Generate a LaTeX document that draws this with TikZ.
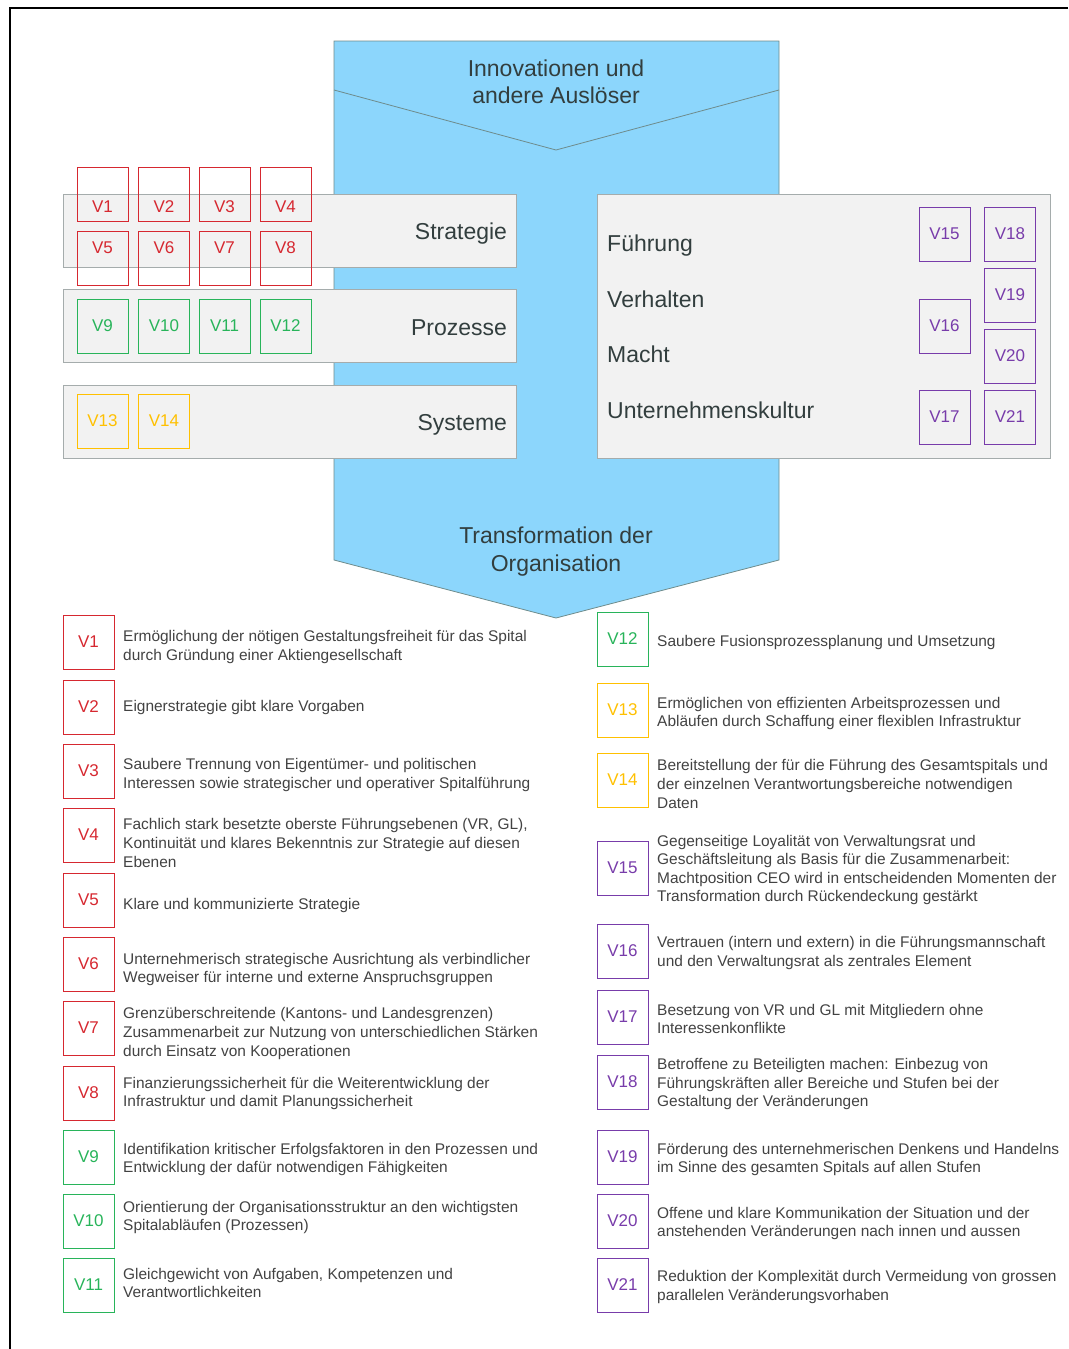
\documentclass[tikz,border=0pt]{standalone}
\usepackage{fontspec}
\setmainfont{Liberation Sans}
\definecolor{flowblue}{RGB}{140,214,252}
\definecolor{flowedge}{RGB}{110,140,140}
\definecolor{bandfill}{RGB}{242,242,242}
\definecolor{bandedge}{RGB}{165,172,172}
\definecolor{headtext}{RGB}{50,62,62}
\definecolor{bodytext}{RGB}{66,66,66}
\definecolor{vred}{RGB}{214,40,48}
\definecolor{vgreen}{RGB}{40,180,90}
\definecolor{vyellow}{RGB}{255,192,0}
\definecolor{vpurple}{RGB}{120,60,170}
\tikzset{
  frame/.style={draw=black, line width=1.5pt},
  flow/.style={fill=flowblue, draw=flowedge, line width=0.8pt},
  flowline/.style={draw=flowedge, line width=0.8pt},
  title/.style={align=center, text=headtext, inner sep=0, font=\fontsize{23}{27.5}\selectfont},
  band/.style={fill=bandfill, draw=bandedge, line width=1pt, minimum width=453pt, minimum height=73pt,
    text width=435pt, inner xsep=9pt, align=right, text=headtext, text height=22.5pt, text depth=4.5pt,
    font=\fontsize{23}{27}\selectfont},
  bandtext/.style={anchor=west, inner sep=0, text=headtext, font=\fontsize{23}{27}\selectfont},
  vbox/.style={draw, line width=0.9pt, minimum width=51pt, minimum height=54pt, inner sep=0, font=\fontsize{17}{20}\selectfont},
  redbox/.style={vbox, draw=vred, text=vred},
  greenbox/.style={vbox, draw=vgreen, text=vgreen},
  yellowbox/.style={vbox, draw=vyellow, text=vyellow},
  purplebox/.style={vbox, draw=vpurple, text=vpurple},
  textlow/.style={text height=40pt, text depth=4pt},
  texthigh/.style={text height=12pt, text depth=22pt},
  desc/.style={anchor=west, align=left, inner sep=0, yshift=-2.5pt, text=bodytext, font=\fontsize{15.45}{18.6}\selectfont}
}
\begin{document}
\begin{tikzpicture}[x=1pt,y=-1pt]
            \useasboundingbox (0,0) rectangle (1068,1349);
            \draw[frame] (1068,8) -- (10,8) -- (10,1349);

            \draw[flow] (334,41) -- (779,41) -- (779,560) -- (556,618) -- (334,560) -- cycle;
            \draw[flowline] (334,90) -- (556,150) -- (779,90);
            \node[title] (trigger) at (556,82) {Innovationen und\\andere Auslöser};
            \node[title] (result) at (556,551.5) {Transformation der\\Organisation};

            \node[band] (strategie) at (289.5,230.5) {Strategie};
            \node[band] (prozesse) at (289.5,326) {Prozesse};
            \node[band] (systeme) at (289.5,421.5) {Systeme};
            \node[band, minimum height=264pt] (kultur) at (823.5,326) {};
            \node[bandtext] (fuehrung) at (607,246) {Führung};
            \node[bandtext] (verhalten) at (607,299) {Verhalten};
            \node[bandtext] (macht) at (607,354) {Macht};
            \node[bandtext] (unternehmen) at (607,410) {Unternehmenskultur};

            \node[redbox, textlow] (s1) at (102.5,194) {V1};
            \node[redbox, textlow] (s2) at (164,194) {V2};
            \node[redbox, textlow] (s3) at (224.5,194) {V3};
            \node[redbox, textlow] (s4) at (285.5,194) {V4};
            \node[redbox, texthigh] (s5) at (102.5,258) {V5};
            \node[redbox, texthigh] (s6) at (164,258) {V6};
            \node[redbox, texthigh] (s7) at (224.5,258) {V7};
            \node[redbox, texthigh] (s8) at (285.5,258) {V8};
            \node[greenbox] (s9) at (102.5,326) {V9};
            \node[greenbox] (s10) at (164,326) {V10};
            \node[greenbox] (s11) at (224.5,326) {V11};
            \node[greenbox] (s12) at (285.5,326) {V12};
            \node[yellowbox] (s13) at (102.5,421) {V13};
            \node[yellowbox] (s14) at (164,421) {V14};

            \node[purplebox] (s15) at (944.5,234) {V15};
            \node[purplebox] (s18) at (1010,234) {V18};
            \node[purplebox] (s19) at (1010,295) {V19};
            \node[purplebox] (s16) at (944.5,326) {V16};
            \node[purplebox] (s20) at (1010,356) {V20};
            \node[purplebox] (s17) at (944.5,417) {V17};
            \node[purplebox] (s21) at (1010,417) {V21};

            \node[redbox] (l1) at (88.5,642) {V1};
            \node[desc] (d1) at (123,644.5) {Ermöglichung der nötigen Gestaltungsfreiheit für das Spital\\durch Gründung einer Aktiengesellschaft};
            \node[redbox] (l2) at (88.5,707) {V2};
            \node[desc] (d2) at (123,705) {Eignerstrategie gibt klare Vorgaben};
            \node[redbox] (l3) at (88.5,771) {V3};
            \node[desc] (d3) at (123,772.5) {Saubere Trennung von Eigentümer- und politischen\\Interessen sowie strategischer und operativer Spitalführung};
            \node[redbox] (l4) at (88.5,835) {V4};
            \node[desc] (d4) at (123,840.5) {Fachlich stark besetzte oberste Führungsebenen (VR, GL),\\Kontinuität und klares Bekenntnis zur Strategie auf diesen\\Ebenen};
            \node[redbox] (l5) at (88.5,900) {V5};
            \node[desc] (d5) at (123,903) {Klare und kommunizierte Strategie};
            \node[redbox] (l6) at (88.5,964) {V6};
            \node[desc] (d6) at (123,967) {Unternehmerisch strategische Ausrichtung als verbindlicher\\Wegweiser für interne und externe Anspruchsgruppen};
            \node[redbox] (l7) at (88.5,1028) {V7};
            \node[desc] (d7) at (123,1031) {Grenzüberschreitende (Kantons- und Landesgrenzen)\\Zusammenarbeit zur Nutzung von unterschiedlichen Stärken\\durch Einsatz von Kooperationen};
            \node[redbox] (l8) at (88.5,1093) {V8};
            \node[desc] (d8) at (123,1091) {Finanzierungssicherheit für die Weiterentwicklung der\\Infrastruktur und damit Planungssicherheit};
            \node[greenbox] (l9) at (88.5,1157) {V9};
            \node[desc] (d9) at (123,1157) {Identifikation kritischer Erfolgsfaktoren in den Prozessen und\\Entwicklung der dafür notwendigen Fähigkeiten};
            \node[greenbox] (l10) at (88.5,1221) {V10};
            \node[desc] (d10) at (123,1215) {Orientierung der Organisationsstruktur an den wichtigsten\\Spitalabläufen (Prozessen)};
            \node[greenbox] (l11) at (88.5,1285) {V11};
            \node[desc] (d11) at (123,1280.5) {Gleichgewicht von Aufgaben, Kompetenzen und\\Verantwortlichkeiten};

            \node[greenbox] (l12) at (622.5,639) {V12};
            \node[desc] (d12) at (657,640) {Saubere Fusionsprozessplanung und Umsetzung};
            \node[yellowbox] (l13) at (622.5,710) {V13};
            \node[desc] (d13) at (657,711) {Ermöglichen von effizienten Arbeitsprozessen und\\Abläufen durch Schaffung einer flexiblen Infrastruktur};
            \node[yellowbox] (l14) at (622.5,780) {V14};
            \node[desc] (d14) at (657,781.5) {Bereitstellung der für die Führung des Gesamtspitals und\\der einzelnen Verantwortungsbereiche notwendigen\\Daten};
            \node[purplebox] (l15) at (622.5,868) {V15};
            \node[desc] (d15) at (657,867.5) {Gegenseitige Loyalität von Verwaltungsrat und\\Geschäftsleitung als Basis für die Zusammenarbeit:\\Machtposition CEO wird in entscheidenden Momenten der\\Transformation durch Rückendeckung gestärkt};
            \node[purplebox] (l16) at (622.5,951) {V16};
            \node[desc] (d16) at (657,950.5) {Vertrauen (intern und extern) in die Führungsmannschaft\\und den Verwaltungsrat als zentrales Element};
            \node[purplebox] (l17) at (622.5,1017) {V17};
            \node[desc] (d17) at (657,1016.5) {Besetzung von VR und GL mit Mitgliedern ohne\\Interessenkonflikte};
            \node[purplebox] (l18) at (622.5,1082) {V18};
            \node[desc] (d18) at (657,1081.5) {Betroffene zu Beteiligten machen: Einbezug von\\Führungskräften aller Bereiche und Stufen bei der\\Gestaltung der Veränderungen};
            \node[purplebox] (l19) at (622.5,1157) {V19};
            \node[desc] (d19) at (657,1157) {Förderung des unternehmerischen Denkens und Handelns\\im Sinne des gesamten Spitals auf allen Stufen};
            \node[purplebox] (l20) at (622.5,1221) {V20};
            \node[desc] (d20) at (657,1221) {Offene und klare Kommunikation der Situation und der\\anstehenden Veränderungen nach innen und aussen};
            \node[purplebox] (l21) at (622.5,1285) {V21};
            \node[desc] (d21) at (657,1284.5) {Reduktion der Komplexität durch Vermeidung von grossen\\parallelen Veränderungsvorhaben};

        \end{tikzpicture}
\end{document}
